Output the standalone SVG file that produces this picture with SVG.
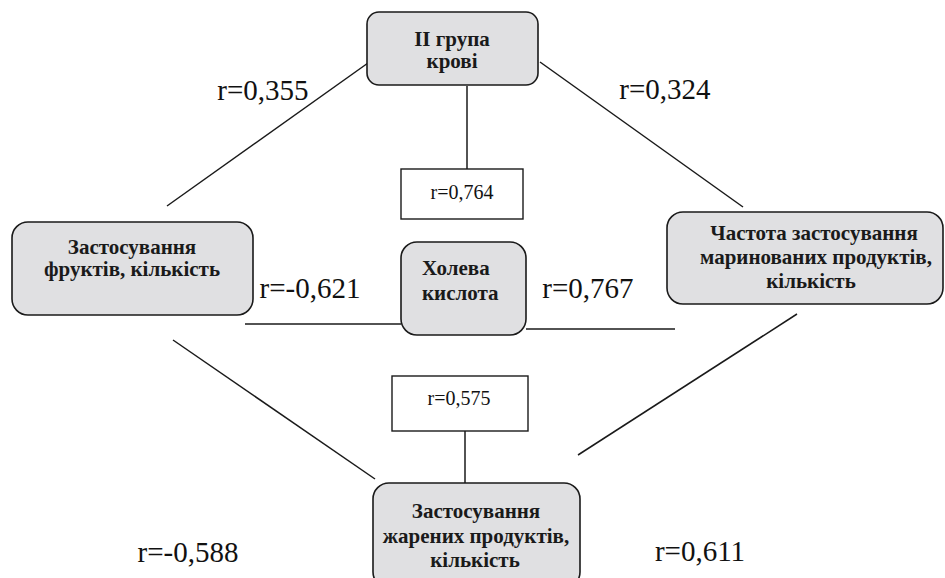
<svg xmlns="http://www.w3.org/2000/svg" width="945" height="578" viewBox="0 0 945 578">
<style>
.node{fill:#e0e0e2;stroke:#1a1a1a;stroke-width:1.6}
.box{fill:#ffffff;stroke:#1a1a1a;stroke-width:1.4}
.nt{font-family:"Liberation Serif",serif;font-weight:bold;font-size:21px;fill:#1a1a1a}
.lbl{font-family:"Liberation Serif",serif;font-size:29px;fill:#111}
.sl{font-family:"Liberation Serif",serif;font-size:20px;fill:#111}
.conn line{stroke:#1a1a1a;stroke-width:1.5}
</style>
<rect width="945" height="578" fill="#ffffff"/>
<g id="connectors" class="conn">
<line x1="167" y1="206" x2="368" y2="63"/>
<line x1="540" y1="62" x2="743" y2="207"/>
<line x1="467" y1="86" x2="467" y2="169"/>
<line x1="245" y1="324" x2="401" y2="324"/>
<line x1="526" y1="329" x2="675" y2="329"/>
<line x1="173" y1="340" x2="375" y2="479"/>
<line x1="797" y1="314" x2="578" y2="455"/>
<line x1="465" y1="431" x2="465" y2="484"/>
</g>
<g id="node-blood">
<rect class="node" x="367" y="12" width="171" height="73" rx="12"/>
<text class="nt" x="452" y="46" text-anchor="middle">II група</text>
<text class="nt" x="452" y="68" text-anchor="middle">крові</text>
</g>
<g id="node-fruits">
<rect class="node" x="12" y="222" width="241" height="93" rx="16"/>
<text class="nt" x="132" y="254" text-anchor="middle">Застосування</text>
<text class="nt" x="132" y="276" text-anchor="middle">фруктів, кількість</text>
</g>
<g id="node-cholic">
<rect class="node" x="401" y="242" width="125" height="93" rx="16"/>
<text class="nt" x="422" y="275">Холева</text>
<text class="nt" x="422" y="300">кислота</text>
</g>
<g id="node-pickled">
<rect class="node" x="667" y="212" width="276" height="92" rx="16"/>
<text class="nt" x="814" y="240" text-anchor="middle">Частота застосування</text>
<text class="nt" x="816" y="264" text-anchor="middle">маринованих продуктів,</text>
<text class="nt" x="811" y="288" text-anchor="middle">кількість</text>
</g>
<g id="node-fried">
<rect class="node" x="373" y="483" width="207" height="105" rx="16"/>
<text class="nt" x="476" y="518" text-anchor="middle">Застосування</text>
<text class="nt" x="476" y="543" text-anchor="middle">жарених продуктів,</text>
<text class="nt" x="475" y="567" text-anchor="middle">кількість</text>
</g>
<g id="box-764">
<rect class="box" x="401" y="169" width="122" height="50"/>
<text class="sl" x="462" y="199" text-anchor="middle">r=0,764</text>
</g>
<g id="box-575">
<rect class="box" x="392" y="376" width="136" height="55"/>
<text class="sl" x="459" y="405" text-anchor="middle">r=0,575</text>
</g>
<g id="labels">
<text class="lbl" x="263" y="100" text-anchor="middle">r=0,355</text>
<text class="lbl" x="665" y="99" text-anchor="middle">r=0,324</text>
<text class="lbl" x="310" y="298" text-anchor="middle">r=-0,621</text>
<text class="lbl" x="588" y="298" text-anchor="middle">r=0,767</text>
<text class="lbl" x="188" y="562" text-anchor="middle">r=-0,588</text>
<text class="lbl" x="700" y="561" text-anchor="middle">r=0,611</text>
</g>
</svg>
